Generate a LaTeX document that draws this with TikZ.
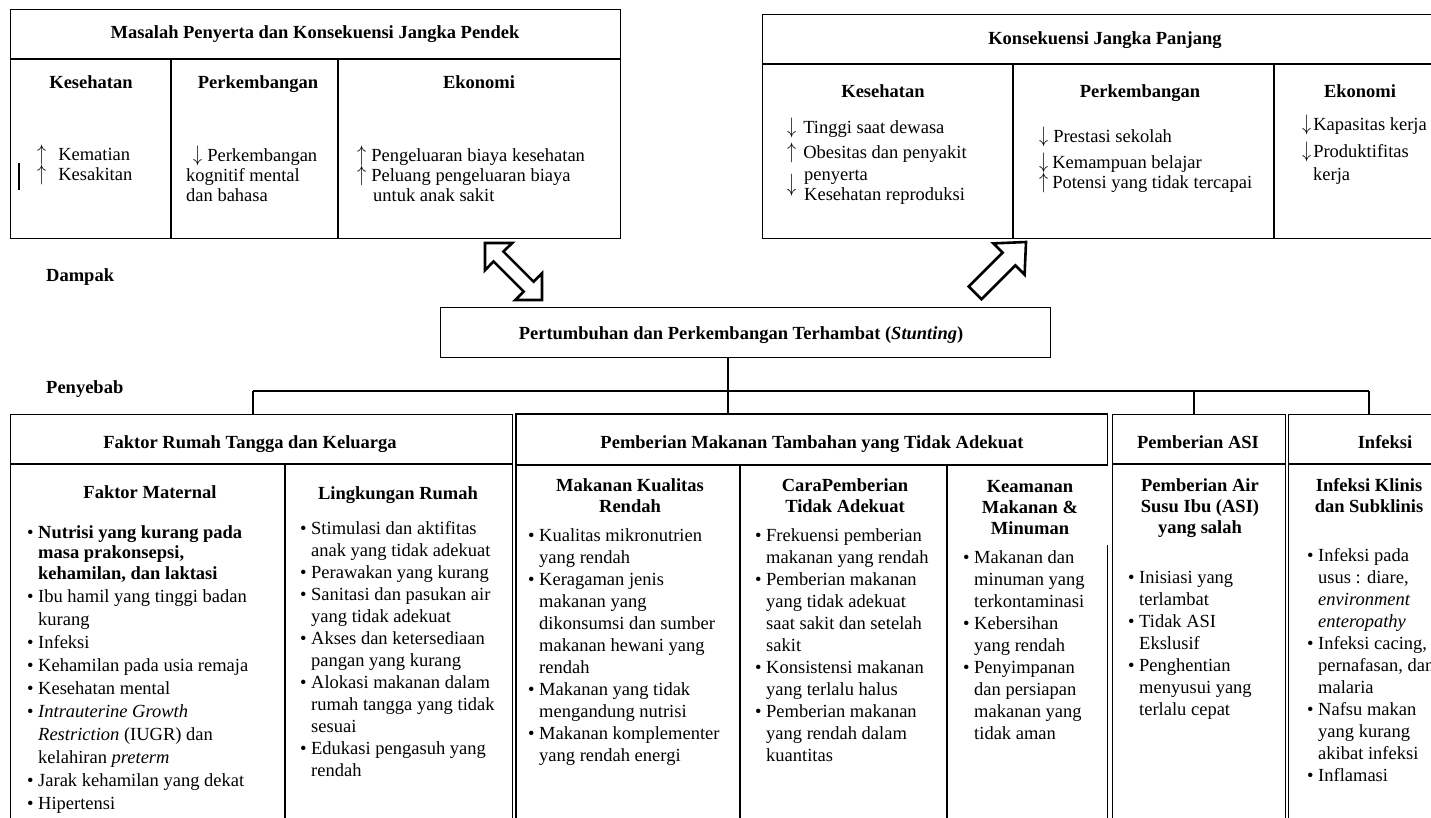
\documentclass[tikz,border=0pt]{standalone}
\usepackage{fontspec}
\setmainfont{Liberation Serif}
\usetikzlibrary{calc, positioning}

\newcommand{\bl}{\makebox[11pt][l]{\textbullet}}
\newcommand{\ind}{\hspace*{11pt}}
\newcommand{\arup}{\smash{\scalebox{1.05}[1.3]{$\uparrow$}}}
\newcommand{\ardn}{\smash{\scalebox{1.05}[1.3]{$\downarrow$}}}

\begin{document}
\begin{tikzpicture}[x=1pt, y=-1pt,
  every node/.style={font=\fontsize{18.5}{22}\selectfont},
  tbl/.style={draw=black, line width=1.3pt},
  box/.style={tbl, anchor=north west, inner sep=0pt},
  ttl/.style={anchor=base, inner sep=0pt, font=\fontsize{18.5}{22}\selectfont\bfseries},
  lbl/.style={anchor=base west, inner sep=0pt, font=\fontsize{18.5}{22}\selectfont\bfseries},
  subttl/.style={anchor=north, inner sep=0pt, align=center,
    font=\fontsize{18.5}{21}\selectfont\bfseries, execute at begin node=\strut},
  lst/.style={anchor=north west, inner sep=0pt, align=left, execute at begin node=\strut},
  toplst/.style={lst, font=\fontsize{18.5}{20}\selectfont},
  blk/.style={draw=black, line width=2.6pt, fill=white, line join=miter}
]
\useasboundingbox (0,0) rectangle (1431,817);
\clip (0,0) rectangle (1431,817);
\fill[white] (0,0) rectangle (1431,817);

% Dampak: konsekuensi jangka pendek
\node[box, minimum width=610pt, minimum height=229pt] (masalah) at (10,9) {};
\draw[tbl] (10,59) -- (620,59);
\draw[tbl] (171,59) -- (171,238);
\draw[tbl] (338,59) -- (338,238);
\node[ttl] (masalahttl) at (315,38.5) {Masalah Penyerta dan Konsekuensi Jangka Pendek};
\node[ttl] (pdkes) at (91,88) {Kesehatan};
\node[ttl] (pdkem) at (258,88) {Perkembangan};
\node[ttl] (pdeko) at (479,88) {Ekonomi};
\node[toplst] (pdkeslst) at (37,148) {\arup\hspace{12pt}Kematian\\ \arup\hspace{12pt}Kesakitan};
\node[toplst] (pdkemlst) at (186,148) {\hspace{7pt}\ardn\hspace{5pt}Perkembangan\\kognitif mental\\dan bahasa};
\node[toplst] (pdekolst) at (357,148) {\arup\hspace{5pt}Pengeluaran biaya kesehatan\\ \arup\hspace{5pt}Peluang pengeluaran biaya\\ \hspace*{16pt}untuk anak sakit};
\draw[line width=1.2pt] (19,163) -- (19,190);

% Dampak: konsekuensi jangka panjang
\node[box, minimum width=686pt, minimum height=224pt] (panjang) at (762,14) {};
\draw[tbl] (762,64) -- (1448,64);
\draw[tbl] (1013,64) -- (1013,238);
\draw[tbl] (1274,64) -- (1274,238);
\node[ttl] (panjangttl) at (1105,44.5) {Konsekuensi Jangka Panjang};
\node[ttl] (pjkes) at (883,97) {Kesehatan};
\node[ttl] (pjkem) at (1140,97) {Perkembangan};
\node[ttl] (pjeko) at (1360,97) {Ekonomi};
\node[lst] (pjkeslst) at (787,120) {\ardn\hspace{7pt}Tinggi saat dewasa\\[3pt]
  \arup\hspace{7pt}Obesitas dan penyakit\\
  \hspace*{17pt}penyerta\\[-2pt]
  \rlap{\smash{\raisebox{9pt}{\scalebox{1.05}[1.45]{$\downarrow$}}}}\hspace*{17pt}Kesehatan reproduksi};
\node[lst] (pjkemlst) at (1039,129) {\ardn\hspace{5pt}Prestasi sekolah\\[4pt]
  \ardn\hspace{4pt}Kemampuan belajar\\[-2pt]
  \arup\hspace{4pt}Potensi yang tidak tercapai};
\node[lst] (pjekolst) at (1302,117) {\ardn\hspace{2pt}Kapasitas kerja\\[5pt]
  \ardn\hspace{2pt}Produktifitas\\[1pt]
  \hspace*{11pt}kerja};

% panah blok
\draw[blk] (485,243) -- (512.3,243) -- (503.4,251.5) -- (533.6,281.7) -- (542,273.2)
  -- (542,300) -- (515.2,300) -- (523.7,291.6) -- (493.5,261.4) -- (485,270.3) -- cycle;
\draw[blk] (1026,242) -- (1024.6,274.6) -- (1015.4,265.4) -- (981.5,299.3)
  -- (968.7,286.5) -- (1002.6,252.6) -- (993.4,243.4) -- cycle;

\node[lbl] (dampak) at (46,281) {Dampak};
\node[lbl] (penyebab) at (46,393) {Penyebab};

% stunting
\node[box, minimum width=610pt, minimum height=50pt] (stunting) at (440,307) {};
\node[ttl] (stuntingttl) at (741,339) {Pertumbuhan dan Perkembangan Terhambat (\textit{Stunting})};

% Penyebab
\node[box, minimum width=502pt, minimum height=420pt] (faktor) at (10,414) {};
\node[anchor=north west, inner sep=0pt, minimum width=591pt, minimum height=420pt] (makanan) at (516,414) {};
\node[box, minimum width=173pt, minimum height=420pt] (asi) at (1112,414) {};
\node[box, minimum width=192pt, minimum height=420pt] (infeksi) at (1288,414) {};
\draw[tbl] ([yshift=-52pt]makanan.north east) -- (makanan.north east) -- (makanan.north west) -- (makanan.south west);
\draw[tbl] ([yshift=-131pt]makanan.north east) -- (makanan.south east);

\coordinate (hub) at (728,391);
\coordinate (busL) at (253,391);
\coordinate (busA) at (1194,391);
\coordinate (busR) at (1369,391);
\draw[tbl] (hub |- stunting.south) -- (hub |- makanan.north);
\draw[tbl] (busL) -- (busR);
\draw[tbl] (busL) -- (busL |- faktor.north);
\draw[tbl] (busA) -- (busA |- asi.north);
\draw[tbl] (busR) -- (busR |- infeksi.north);

\draw[tbl] (10,464) -- (512,464);
\draw[tbl] (285,464) -- (285,834);
\draw[draw=black, line width=2pt] (516,465) -- (1107,465);
\draw[tbl] (740,465) -- (740,834);
\draw[tbl] (947,465) -- (947,834);
\draw[tbl] (1112,464) -- (1285,464);
\draw[tbl] (1288,464) -- (1480,464);

\node[ttl] (faktorttl) at (250,448) {Faktor Rumah Tangga dan Keluarga};
\node[ttl] (makananttl) at (812,448) {Pemberian Makanan Tambahan yang Tidak Adekuat};
\node[ttl] (asittl) at (1198,448) {Pemberian ASI};
\node[ttl] (infeksittl) at (1385,448) {Infeksi};

\node[subttl] (maternal) at (150,483.5) {Faktor Maternal};
\node[subttl] (lingkungan) at (398,484.5) {Lingkungan Rumah};
\node[subttl] (kualitas) at (630,478) {Makanan Kualitas\\Rendah};
\node[subttl] (cara) at (845,478) {CaraPemberian\\Tidak Adekuat};
\node[subttl] (keamanan) at (1030,480) {Keamanan\\Makanan \&\\Minuman};
\node[subttl] (airsusu) at (1200,478) {Pemberian Air\\Susu Ibu (ASI)\\yang salah};
\node[subttl] (klinis) at (1369,478) {Infeksi Klinis\\dan Subklinis};

\node[lst, font=\fontsize{18.5}{23}\selectfont] (maternallst) at (27,525) {\bl\textbf{Nutrisi yang kurang pada}\\[-2.5pt]
  \ind\textbf{masa prakonsepsi,}\\[-2.5pt]
  \ind\textbf{kehamilan, dan laktasi}\\
  \bl Ibu hamil yang tinggi badan\\
  \ind kurang\\
  \bl Infeksi\\
  \bl Kehamilan pada usia remaja\\
  \bl Kesehatan mental\\
  \bl\textit{Intrauterine Growth}\\
  \ind\textit{Restriction} (IUGR) dan\\
  \ind kelahiran \textit{preterm}\\
  \bl Jarak kehamilan yang dekat\\
  \bl Hipertensi};
\node[lst] (lingkunganlst) at (300,521) {\bl Stimulasi dan aktifitas\\
  \ind anak yang tidak adekuat\\
  \bl Perawakan yang kurang\\
  \bl Sanitasi dan pasukan air\\
  \ind yang tidak adekuat\\
  \bl Akses dan ketersediaan\\
  \ind pangan yang kurang\\
  \bl Alokasi makanan dalam\\
  \ind rumah tangga yang tidak\\
  \ind sesuai\\
  \bl Edukasi pengasuh yang\\
  \ind rendah};
\node[lst] (kualitaslst) at (528,528) {\bl Kualitas mikronutrien\\
  \ind yang rendah\\
  \bl Keragaman jenis\\
  \ind makanan yang\\
  \ind dikonsumsi dan sumber\\
  \ind makanan hewani yang\\
  \ind rendah\\
  \bl Makanan yang tidak\\
  \ind mengandung nutrisi\\
  \bl Makanan komplementer\\
  \ind yang rendah energi};
\node[lst] (caralst) at (755,528) {\bl Frekuensi pemberian\\
  \ind makanan yang rendah\\
  \bl Pemberian makanan\\
  \ind yang tidak adekuat\\
  \ind saat sakit dan setelah\\
  \ind sakit\\
  \bl Konsistensi makanan\\
  \ind yang terlalu halus\\
  \bl Pemberian makanan\\
  \ind yang rendah dalam\\
  \ind kuantitas};
\node[lst] (keamananlst) at (963,550) {\bl Makanan dan\\
  \ind minuman yang\\
  \ind terkontaminasi\\
  \bl Kebersihan\\
  \ind yang rendah\\
  \bl Penyimpanan\\
  \ind dan persiapan\\
  \ind makanan yang\\
  \ind tidak aman};
\node[lst] (airsusulst) at (1128,571) {\bl Inisiasi yang\\
  \ind terlambat\\
  \bl Tidak ASI\\
  \ind Ekslusif\\
  \bl Penghentian\\
  \ind menyusui yang\\
  \ind terlalu cepat};
\node[lst] (klinislst) at (1307,548) {\bl Infeksi pada\\
  \ind usus : diare,\\
  \ind\textit{environment}\\
  \ind\textit{enteropathy}\\
  \bl Infeksi cacing,\\
  \ind pernafasan, dan\\
  \ind malaria\\
  \bl Nafsu makan\\
  \ind yang kurang\\
  \ind akibat infeksi\\
  \bl Inflamasi};
\end{tikzpicture}
\end{document}
